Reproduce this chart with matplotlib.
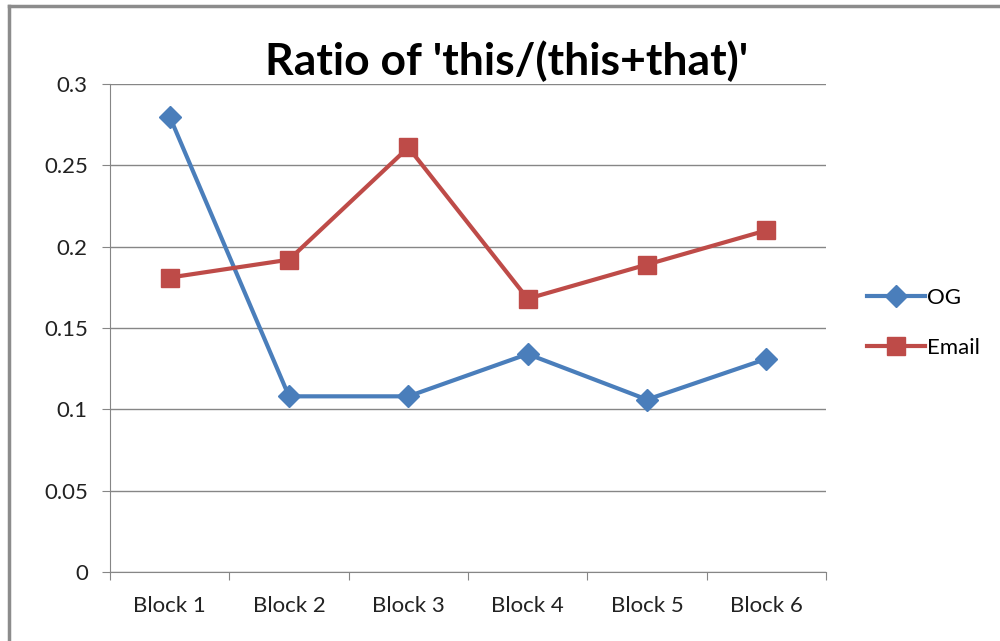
import matplotlib.pyplot as plt
from matplotlib.lines import Line2D

categories = ["Block 1", "Block 2", "Block 3", "Block 4", "Block 5", "Block 6"]
og = [0.28, 0.108, 0.108, 0.134, 0.106, 0.131]
email = [0.181, 0.192, 0.261, 0.168, 0.189, 0.210]
yticks = [0, 0.05, 0.1, 0.15, 0.2, 0.25, 0.3]
ytick_labels = ["0", "0.05", "0.1", "0.15", "0.2", "0.25", "0.3"]

plt.rcParams["font.family"] = ["Lato", "DejaVu Sans"]

fig = plt.figure(figsize=(10, 6.41), dpi=100)
ax = fig.add_axes([0.11, 0.1076, 0.716, 0.7614])

grid_col = "#868686"
x = list(range(len(categories)))

ax.plot(x, og, color="#4A7EBB", lw=3, marker="D", markersize=11, label="OG")
ax.plot(x, email, color="#BE4B48", lw=3, marker="s", markersize=12.5, label="Email")

ax.set_xlim(-0.5, len(categories) - 0.5)
ax.set_ylim(0, 0.3)
ax.set_yticks(yticks)
ax.set_yticklabels(ytick_labels, fontsize=16, color="#222222")
ax.yaxis.grid(True, color=grid_col, lw=1)
ax.set_axisbelow(True)

ax.set_xticks([i - 0.5 for i in range(len(categories) + 1)])
ax.set_xticklabels([])
ax.set_xticks(x, minor=True)
ax.set_xticklabels(categories, minor=True, fontsize=16, color="#222222")
ax.tick_params(axis="x", which="major", length=6, color=grid_col, direction="out")
ax.tick_params(axis="x", which="minor", length=0, pad=17)
ax.tick_params(axis="y", length=6, color=grid_col, pad=10)

for side in ["top", "right"]:
    ax.spines[side].set_visible(False)
for side in ["left", "bottom"]:
    ax.spines[side].set_color(grid_col)

fig.text(0.507, 0.905, "Ratio of 'this/(this+that)'", fontsize=32, fontweight="bold",
         ha="center", va="center")

ax.legend(loc="center left", bbox_to_anchor=(1.03, 0.51), frameon=False, fontsize=16,
          handlelength=2.6, labelspacing=1.35, handletextpad=0.1)

fig.add_artist(Line2D([0.009, 0.009], [0, 0.991], transform=fig.transFigure, color="#8c8c8c", lw=2.5))
fig.add_artist(Line2D([0.009, 1], [0.991, 0.991], transform=fig.transFigure, color="#8c8c8c", lw=2.5))

fig.savefig("out.png", dpi=100)
